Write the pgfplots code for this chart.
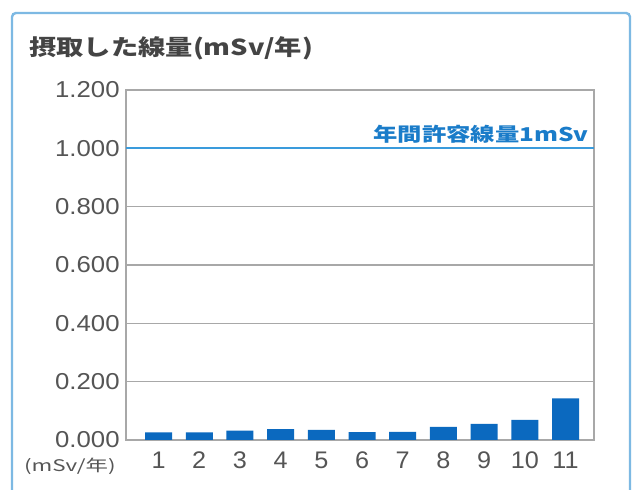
\documentclass[border=0pt]{standalone}
\usepackage{pgfplots}
\pgfplotsset{compat=1.18}
\usepackage{fontspec}
\setmainfont{Noto Sans CJK JP}
\newfontfamily\lib{Liberation Sans}
\definecolor{framec}{HTML}{7DB9E3}
\definecolor{barc}{HTML}{0B69BF}
\definecolor{linec}{HTML}{3A9BDC}
\definecolor{labc}{HTML}{1A7CC9}
\definecolor{txt}{HTML}{555555}
\definecolor{gridc}{HTML}{A8A8A8}
\begin{document}
\begin{tikzpicture}[x=0.5pt,y=0.5pt]
% pixel (x,y) -> (x-126, 440-y)
\useasboundingbox (-126,-50) rectangle (509,440);
\fill[white] (-126,-50) rectangle (509,440);
\draw[framec, line width=1.2pt, rounded corners=2pt] (-114,427) rectangle (504,-80);
\node[anchor=west, text=txt!80!black, font=\fontsize{11pt}{12pt}\selectfont\bfseries, inner sep=0pt] at (-97,392) {\scalebox{1.24}[1]{摂取した線量(mSv/年)}};
\begin{axis}[
  at={(0,0)}, anchor=origin,
  scale only axis, width=234pt, height=175pt,
  xmin=0.2, xmax=11.7, ymin=0, ymax=1.2,
  ytick={0,0.2,0.4,0.6,0.8,1.0,1.2},
  xtick={1,2,3,4,5,6,7,8,9,10,11},
  major tick length=0pt,
  ymajorgrids, grid style={gridc, line width=0.6pt},
  axis line style={gridc, line width=0.6pt},
  /pgf/number format/assume math mode=true,
  /pgf/number format/fixed, /pgf/number format/fixed zerofill, /pgf/number format/precision=3,
  yticklabel={\scalebox{1.12}[1]{\pgfmathprintnumber{\tick}}},
  yticklabel style={text=txt, font=\lib\fontsize{11.5pt}{13pt}\selectfont, inner xsep=3pt},
  xticklabel={\scalebox{1.05}[1]{\pgfmathprintnumber[precision=0]{\tick}}},
  xticklabel style={text=txt, font=\lib\fontsize{12pt}{13pt}\selectfont, yshift=-2.5pt},
  ybar, bar width=13.5pt,
  clip=false,
]
\addplot[fill=barc, draw=none] coordinates {
(1,0.026) (2,0.026) (3,0.032) (4,0.037) (5,0.035) (6,0.027) (7,0.028) (8,0.045) (9,0.055) (10,0.069) (11,0.143)};
\draw[linec, line width=1pt] (axis cs:0.2,1) -- (axis cs:11.7,1);
\node[anchor=south east, text=labc, font=\fontsize{9.5pt}{11pt}\selectfont\bfseries, inner sep=1.5pt] at (axis cs:11.65,1.005) {\scalebox{1.28}[1]{年間許容線量1mSv}};
\end{axis}
\node[anchor=east, text=txt, font=\fontsize{8pt}{9pt}\selectfont, inner sep=0pt] at (-10,-26) {\scalebox{1.4}[1]{(mSv/年)}};
\end{tikzpicture}
\end{document}
